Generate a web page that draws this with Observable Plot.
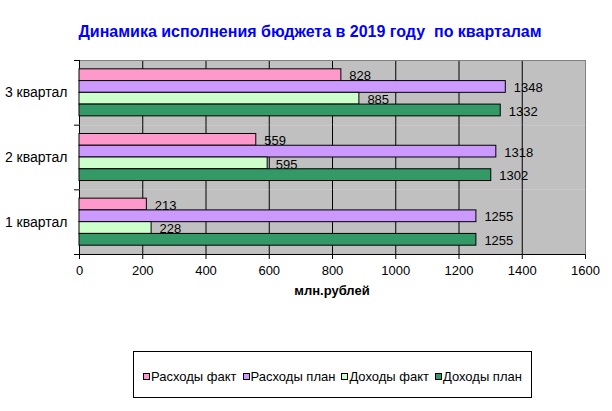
<!DOCTYPE html>
<html><head><meta charset="utf-8">
<script src="https://cdn.jsdelivr.net/npm/d3@7"></script>
<script src="https://cdn.jsdelivr.net/npm/@observablehq/plot@0.6"></script>
<style>
body{margin:0;background:#fff;font-family:"Liberation Sans",Arial,sans-serif;}
#wrap{position:relative;width:612px;height:411px;overflow:hidden;background:#fff;}
#title{position:absolute;left:0;top:22px;width:620px;text-align:center;font-weight:bold;font-size:16px;color:#0000ff;white-space:pre;line-height:20px;}
#chart{position:absolute;left:0;top:50px;}
#xlabel{position:absolute;left:232px;width:200px;top:283px;text-align:center;font-weight:bold;font-size:13px;line-height:16px;color:#000;}
#legend{position:absolute;left:133px;top:351px;width:399px;height:47px;border:1px solid #000;box-sizing:border-box;display:flex;align-items:center;padding:3px 0 0 9px;font-size:13px;color:#000;}
.item{display:flex;align-items:center;margin-right:6px;white-space:nowrap;}
.sw{width:5px;height:5px;border:1px solid #000;margin-right:1px;}
</style></head>
<body><div id="wrap">
<div id="title"></div>
<div id="chart"></div>
<div id="xlabel"></div>
<div id="legend"></div>
</div>
<script>
const titleText = "Динамика исполнения бюджета в 2019 году  по кварталам";
const xLabel = "млн.рублей";
const quarters = ["1 квартал", "2 квартал", "3 квартал"];
const series = ["Расходы факт", "Расходы план", "Доходы факт", "Доходы план"];
const rashodyFakt = [213, 559, 828];
const rashodyPlan = [1255, 1318, 1348];
const dohodyFakt = [228, 595, 885];
const dohodyPlan = [1255, 1302, 1332];
const colors = ["#FF99CC", "#CC99FF", "#CCFFCC", "#339966"];
const xTicks = [0, 200, 400, 600, 800, 1000, 1200, 1400, 1600];

const valuesBySeries = [rashodyFakt, rashodyPlan, dohodyFakt, dohodyPlan];
const rows = [];
quarters.forEach((q, i) => series.forEach((s, j) => rows.push({quarter: q, series: s, value: valuesBySeries[j][i]})));

document.getElementById("title").textContent = titleText;
document.getElementById("xlabel").textContent = xLabel;

const H = 300, mt = 10, mb = 96, ml = 79, mr = 27;
const pOuter = 0.75;
const facetH = (H - mt - mb) / quarters.length;
const step = facetH / (series.length + 2 * pOuter);
const edge = step * (pOuter + 0.5);
const xMax = xTicks[xTicks.length - 1];

const marks = [
  Plot.frame({fill: "#c0c0c0", stroke: "none"}),
  Plot.gridX(xTicks.slice(1, -1), {stroke: "#000", strokeOpacity: 1}),
  Plot.ruleX([xMax], {stroke: "#808080"}),
  Plot.ruleY([quarters[quarters.length - 1]], {fy: d => d, y: () => series[0], dy: -edge, stroke: "#808080"}),
  Plot.ruleX([0], {stroke: "#000"}),
  Plot.ruleY(quarters, {fy: d => d, y: () => series[0], dy: -edge, x1: 0, x2: 0, insetLeft: -5, stroke: "#000"}),
  Plot.ruleY([quarters[0]], {fy: d => d, y: () => series[series.length - 1], dy: edge, x1: 0, x2: 0, insetLeft: -5, stroke: "#000"}),
  Plot.ruleY([quarters[0]], {fy: d => d, y: () => series[series.length - 1], dy: edge, stroke: "#000"}),
  Plot.axisFy({anchor: "left", label: null, tickSize: 0, tickPadding: 12, fontSize: 14})
];
series.forEach((s, j) => {
  marks.push(Plot.barX(rows, {filter: d => d.series === s, x: "value", y: "series", fy: "quarter", fill: colors[j], stroke: "#000", strokeWidth: 1}));
  marks.push(Plot.text(rows, {filter: d => d.series === s, x: "value", y: "series", fy: "quarter", text: d => String(d.value), textAnchor: "start", dx: 8, dy: 1, fill: "#000", fontSize: 13}));
});

const chart = Plot.plot({
  width: 612, height: H,
  marginTop: mt, marginBottom: mb, marginLeft: ml, marginRight: mr,
  style: {fontFamily: "'Liberation Sans', Arial, sans-serif", fontSize: "13px", background: "transparent", color: "#000"},
  x: {domain: [0, xMax], ticks: xTicks, tickFormat: d => String(d), tickSize: 5, tickPadding: 6, label: null},
  y: {domain: series, axis: null, paddingInner: 0, paddingOuter: pOuter, round: false},
  fy: {domain: quarters.slice().reverse(), padding: 0, round: false, axis: null, label: null},
  marks
});
document.getElementById("chart").appendChild(chart);

const legend = document.getElementById("legend");
series.forEach((s, j) => {
  const it = document.createElement("div"); it.className = "item";
  const sw = document.createElement("div"); sw.className = "sw"; sw.style.background = colors[j];
  const tx = document.createElement("span"); tx.textContent = s;
  it.appendChild(sw); it.appendChild(tx); legend.appendChild(it);
});
</script>
</body></html>
